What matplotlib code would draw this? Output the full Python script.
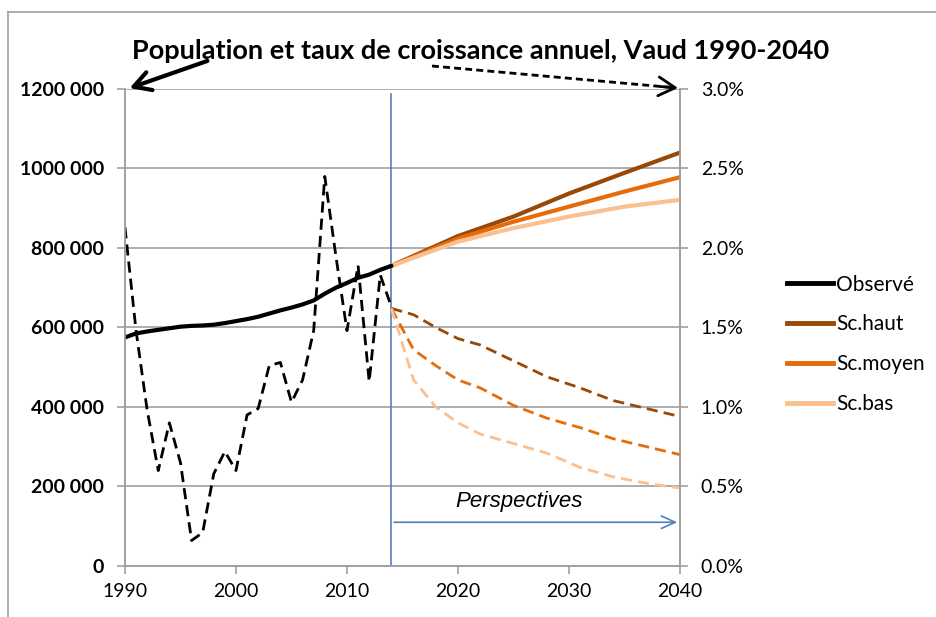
import matplotlib
matplotlib.use("Agg")
import matplotlib.pyplot as plt
from matplotlib.lines import Line2D
from matplotlib.patches import FancyArrowPatch
from matplotlib.ticker import FixedLocator

# ========== DATA ==========
obs_years = list(range(1990, 2015))
obs_pop = [575000, 585000, 590000, 594000, 598000, 602000, 604000, 605000, 607000, 611000,
           616000, 621000, 627000, 635000, 643000, 650000, 658000, 668000, 685000, 700000,
           712000, 725000, 733000, 745000, 755000]
obs_rate = [2.13, 1.48, 0.98, 0.60, 0.90, 0.65, 0.16, 0.21, 0.58, 0.72,
            0.60, 0.95, 0.99, 1.26, 1.28, 1.03, 1.17, 1.48, 2.45, 1.95,
            1.48, 1.89, 1.16, 1.83, 1.63]

scen_years = [2014, 2020, 2025, 2030, 2035, 2040]
pop_haut = [755000, 830000, 879000, 937000, 989000, 1040000]
pop_moyen = [755000, 824000, 866000, 904000, 942000, 978000]
pop_bas = [755000, 816000, 850000, 879000, 904000, 921000]

rate_years = [2014, 2016, 2018, 2020, 2022, 2025, 2028, 2031, 2034, 2037, 2040]
rate_haut = [1.62, 1.58, 1.50, 1.43, 1.39, 1.29, 1.19, 1.12, 1.04, 0.99, 0.94]
rate_moyen = [1.62, 1.36, 1.26, 1.17, 1.12, 1.01, 0.93, 0.87, 0.80, 0.75, 0.70]
rate_bas = [1.62, 1.17, 1.00, 0.90, 0.83, 0.77, 0.71, 0.62, 0.56, 0.52, 0.49]

x_ticks = [1990, 2000, 2010, 2020, 2030, 2040]
left_ticks = [0, 200000, 400000, 600000, 800000, 1000000, 1200000]
left_labels = ["0", "200 000", "400 000", "600 000", "800 000", "1000 000", "1200 000"]
right_ticks = [0.0, 0.5, 1.0, 1.5, 2.0, 2.5, 3.0]
right_labels = ["0.0%", "0.5%", "1.0%", "1.5%", "2.0%", "2.5%", "3.0%"]

series_names = ["Observé", "Sc.haut", "Sc.moyen", "Sc.bas"]
C_OBS = "black"
C_HAUT = "#984807"
C_MOYEN = "#E46C0A"
C_BAS = "#FAC090"
C_BLUE = "#4F81BD"
GRID = "#A0A0A0"
DASH = (0, (4, 2.2))

plt.rcParams['font.family'] = ['Lato', 'DejaVu Sans']

fig = plt.figure(figsize=(9.36, 6.17), dpi=100)
ax = fig.add_axes([0.1335, 0.0827, 0.593, 0.7731])
ax2 = ax.twinx()

# population (left axis)
ax.plot(obs_years, obs_pop, color=C_OBS, lw=3, solid_capstyle='round', zorder=5)
ax.plot(scen_years, pop_haut, color=C_HAUT, lw=3, zorder=4)
ax.plot(scen_years, pop_moyen, color=C_MOYEN, lw=3, zorder=4)
ax.plot(scen_years, pop_bas, color=C_BAS, lw=3, zorder=4)

# growth rates (right axis)
ax2.plot(obs_years, obs_rate, color=C_OBS, lw=2, ls=DASH)
ax2.plot(rate_years, rate_haut, color=C_HAUT, lw=2, ls=DASH)
ax2.plot(rate_years, rate_moyen, color=C_MOYEN, lw=2, ls=DASH)
ax2.plot(rate_years, rate_bas, color=C_BAS, lw=2, ls=DASH)

ax.set_xlim(1990, 2040)
ax.set_ylim(0, 1200000)
ax2.set_ylim(0, 3.0)

ax.yaxis.set_major_locator(FixedLocator(left_ticks))
ax.set_yticklabels(left_labels, fontsize=14, fontweight='bold')
ax2.yaxis.set_major_locator(FixedLocator(right_ticks))
ax2.set_yticklabels(right_labels, fontsize=14)
ax.set_xticks(x_ticks)
ax.set_xticklabels([str(x) for x in x_ticks], fontsize=14)

ax.grid(axis='y', color=GRID, lw=1.2)
ax.set_axisbelow(True)
for a in (ax, ax2):
    a.spines['top'].set_visible(False)
    for s in ('left', 'right', 'bottom'):
        a.spines[s].set_color(GRID)
        a.spines[s].set_linewidth(1.2)
    a.tick_params(colors=GRID, labelcolor='black', length=6, width=1.2)
ax.tick_params(axis='x', pad=6)
ax.tick_params(axis='y', pad=9)
ax2.tick_params(axis='y', pad=9)

# separation observed / projections
ax.axvline(2014, color=C_BLUE, lw=1.2, ymax=0.99, zorder=1)
ax.annotate("", xy=(2040, 110000), xytext=(2014, 110000),
            arrowprops=dict(arrowstyle='->,head_length=1.0,head_width=0.45', color=C_BLUE, lw=1.2))
ax.text(2025.5, 163000, "Perspectives", fontsize=16, style='italic', ha='center', va='center',
        family=['Liberation Sans'])

# title and pointer arrows
fig.text(0.513, 0.918, "Population et taux de croissance annuel, Vaud 1990-2040",
         ha='center', va='center', fontsize=19.5, fontweight='bold')
fig.add_artist(FancyArrowPatch(
    (210 / 936, 1 - 60 / 617), (127 / 936, 1 - 89 / 617), transform=fig.transFigure,
    arrowstyle='->,head_length=0.8,head_width=0.45', color='black', lw=3, mutation_scale=15))
# dashed shaft, solid head
fig.add_artist(Line2D([432 / 936, 672 / 936], [1 - 66 / 617, 1 - 87.5 / 617],
                      color='black', lw=2, ls=(0, (2.5, 1.5))))
fig.add_artist(FancyArrowPatch(
    (660 / 936, 1 - 86.5 / 617), (678 / 936, 1 - 88 / 617), transform=fig.transFigure,
    arrowstyle='->,head_length=0.8,head_width=0.45', color='black', lw=2, mutation_scale=15,
    shrinkA=0, shrinkB=0))

# chart frame
fig.add_artist(Line2D([8 / 936, 8 / 936], [0, 1 - 12 / 617], color=GRID, lw=1.2))
fig.add_artist(Line2D([8 / 936, 1], [1 - 12 / 617, 1 - 12 / 617], color=GRID, lw=1.2))

# legend
handles = [Line2D([], [], color=c, lw=3.5) for c in (C_OBS, C_HAUT, C_MOYEN, C_BAS)]
fig.legend(handles, series_names, loc='center left', bbox_to_anchor=(0.821, 0.442),
           frameon=False, fontsize=15, handlelength=2.2, handletextpad=0.15,
           labelspacing=0.95)

plt.savefig("out.png", dpi=100)
plt.close()
